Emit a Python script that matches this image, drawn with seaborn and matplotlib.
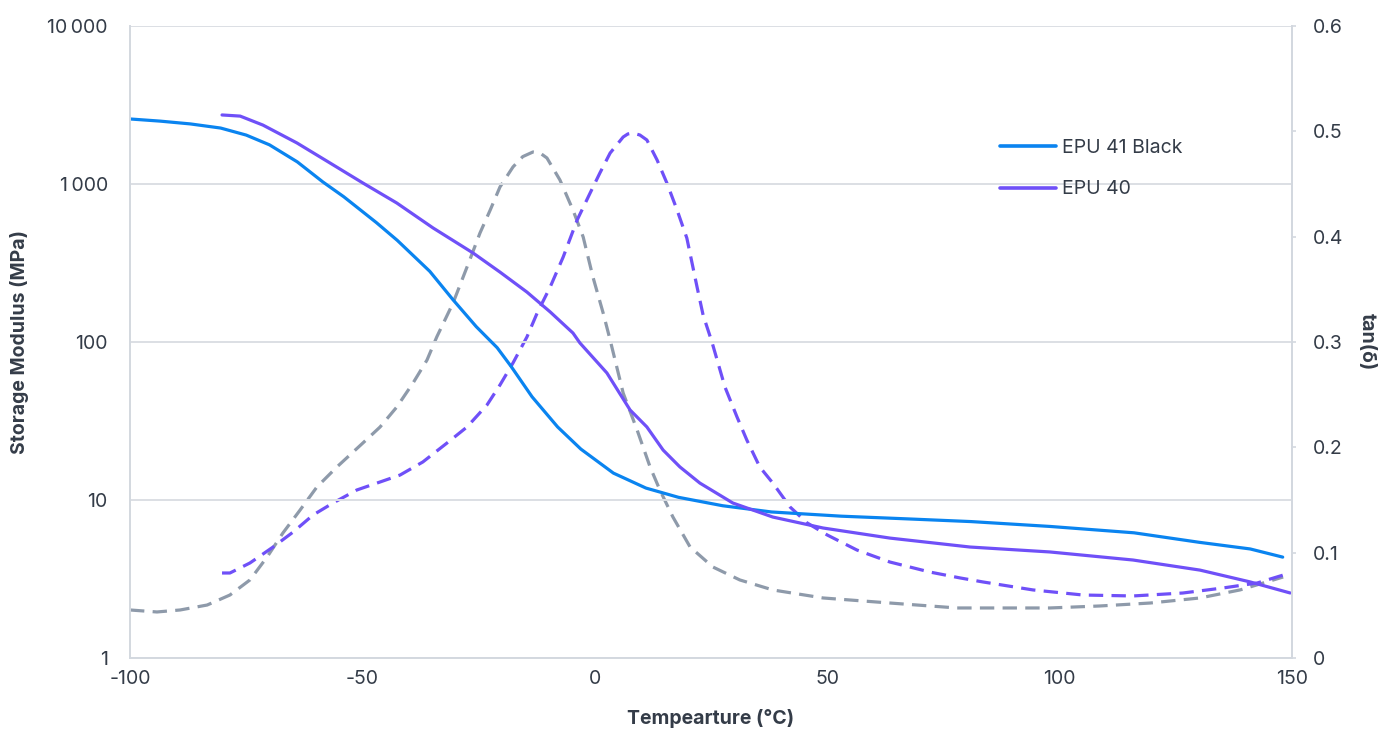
import numpy as np
import pandas as pd
import matplotlib
matplotlib.use("Agg")
import matplotlib.pyplot as plt
import seaborn as sns
from matplotlib.ticker import FixedLocator, FixedFormatter, NullLocator

# ---------------- data ----------------
series_names = ["EPU 41 Black", "EPU 40"]

temp_epu41_mod = [-100, -93.5, -87, -80.5, -75, -70, -64, -58.5, -54, -47, -42.5, -35.5,
                  -30.5, -25.5, -21, -18, -13.5, -8, -3, 4, 11, 18, 27.5, 38, 53, 67,
                  81, 98, 116, 130, 141, 148]
mod_epu41 = [2580, 2500, 2400, 2260, 2040, 1770, 1380, 1030, 830, 570, 440, 280,
             185, 125, 92, 70, 45, 29, 21, 14.8, 11.9, 10.4, 9.2, 8.4, 7.9, 7.6,
             7.3, 6.8, 6.2, 5.4, 4.9, 4.35]

temp_epu40_mod = [-80.2, -76.3, -71.4, -64.1, -57, -49.9, -42.6, -34.8, -26.2, -20.4,
                  -14.6, -9.6, -4.7, -3.2, 2.6, 7.6, 11.2, 14.7, 18.3, 22.6, 29.7,
                  38.3, 49.1, 63.5, 80.7, 97.9, 115.8, 130.2, 141, 149.6]
mod_epu40 = [2735, 2690, 2360, 1820, 1360, 1015, 758, 527, 366, 277,
             207, 155, 114, 98.6, 63.7, 37.1, 29.0, 20.7, 16.2, 12.8, 9.57,
             7.8, 6.65, 5.74, 5.04, 4.69, 4.17, 3.6, 3.03, 2.58]

temp_epu41_tan = [-100, -94.2, -89.2, -83.4, -78.5, -74.2, -70.5, -67.1, -63.4, -59.8,
                  -55.5, -49.9, -46.2, -42.6, -39.1, -36.1, -34, -30.5, -26.9, -24.7,
                  -22.5, -20.4, -17.6, -15.5, -13.3, -11.8, -10.3, -7.5, -4.7, -2.5, -0.4, 1.8, 3.3,
                  6.1, 9.1, 11.9, 14, 16.8, 20.5, 25.4, 31.2, 38.3, 49.1, 63.5, 77.9,
                  87.2, 97.9, 108.7, 119.5, 130.2, 138.8, 148.1]
tan_epu41 = [0.0456, 0.0437, 0.0456, 0.0503, 0.0598, 0.0741, 0.0959, 0.1187, 0.1405, 0.1623,
             0.1813, 0.2041, 0.2193, 0.2383, 0.2611, 0.2829, 0.3048, 0.337, 0.3779, 0.4035,
             0.4253, 0.4472, 0.4662, 0.4760, 0.4804, 0.4795, 0.4747, 0.4538, 0.4253, 0.3997, 0.3617, 0.3275, 0.3019,
             0.2516, 0.2165, 0.1813, 0.1595, 0.1339, 0.1054, 0.0864, 0.0741, 0.0646, 0.057, 0.0522, 0.0475,
             0.0475, 0.0475, 0.0494, 0.0522, 0.057, 0.0646, 0.0769]

temp_epu40_tan = [-80.2, -78.5, -74.2, -69.2, -64.9, -60.6, -56.3, -51.2, -46.2, -41.9,
                  -37, -31.8, -27.5, -23.2, -20.4, -17.6, -14.6, -12.4, -9.6, -6.8,
                  -3.8, -1, 1.1, 3.3, 6.1, 7.1, 8.2, 9.7, 11.2, 13.4, 15.5, 17.7, 19.8, 22,
                  23.3, 25.2, 28, 30.6, 32.7, 35.5, 38.3, 42, 45.7, 50, 56.4, 63.5,
                  72.1, 78.6, 83.5, 94.3, 105, 115.8, 126.5, 135.2, 142.5, 148.9]
tan_epu40 = [0.0807, 0.0807, 0.0902, 0.1054, 0.1196, 0.1358, 0.1472, 0.1595, 0.1671, 0.1737,
             0.1861, 0.2041, 0.2193, 0.2402, 0.2592, 0.2801, 0.3048, 0.3275, 0.3522, 0.3807,
             0.4158, 0.4415, 0.4605, 0.4794, 0.4946, 0.4975, 0.4984, 0.4965, 0.4918, 0.4728, 0.451, 0.4253, 0.3987, 0.3522,
             0.3256, 0.3, 0.2573, 0.2288, 0.207, 0.1813, 0.1661, 0.1434, 0.1282, 0.1168, 0.1025, 0.0911,
             0.0816, 0.076, 0.0722, 0.0646, 0.0598, 0.0589, 0.0617, 0.0665, 0.0712, 0.0798]

x_ticks = [-100, -50, 0, 50, 100, 150]
x_tick_labels = ["-100", "-50", "0", "50", "100", "150"]
left_ticks = [1, 10, 100, 1000, 10000]
left_tick_labels = ["1", "10", "100", "1\u2009000", "10\u2009000"]
right_ticks = [0, 0.1, 0.2, 0.3, 0.4, 0.5, 0.6]
right_tick_labels = ["0", "0.1", "0.2", "0.3", "0.4", "0.5", "0.6"]

# ---------------- style ----------------
BLUE = "#0A84F0"
PURPLE = "#6F50F8"
GRAY = "#8E9AAA"
GRID = "#DCDFE4"
SPINE = "#D3D8DF"
TEXT = "#343C48"

sns.set_theme(style="white")
plt.rcParams["font.family"] = ["Inter", "DejaVu Sans"]

df_mod = pd.concat([
    pd.DataFrame({"Temperature": temp_epu41_mod, "Modulus": mod_epu41, "Series": series_names[0]}),
    pd.DataFrame({"Temperature": temp_epu40_mod, "Modulus": mod_epu40, "Series": series_names[1]}),
], ignore_index=True)
df_tan = pd.concat([
    pd.DataFrame({"Temperature": temp_epu41_tan, "tan": tan_epu41, "Series": series_names[0]}),
    pd.DataFrame({"Temperature": temp_epu40_tan, "tan": tan_epu40, "Series": series_names[1]}),
], ignore_index=True)

W, H = 1392, 734
fig = plt.figure(figsize=(W / 100, H / 100), dpi=100)
ax = fig.add_axes([130 / W, (H - 658) / H, 1162 / W, 632 / H])
ax2 = ax.twinx()

palette = {series_names[0]: BLUE, series_names[1]: PURPLE}
sns.lineplot(data=df_mod, x="Temperature", y="Modulus", hue="Series", palette=palette,
             ax=ax, linewidth=2.3, sort=False, estimator=None)

tan_palette = {series_names[0]: GRAY, series_names[1]: PURPLE}
sns.lineplot(data=df_tan, x="Temperature", y="tan", hue="Series", palette=tan_palette,
             ax=ax2, linewidth=2.3, sort=False, estimator=None, legend=False)
for ln in ax2.get_lines():
    ln.set_dashes((4.5, 2.6))

ax.set_yscale("log")
ax.set_ylim(1, 10000)
ax.set_xlim(-100, 150)
ax2.set_ylim(0, 0.6)

ax.xaxis.set_major_locator(FixedLocator(x_ticks))
ax.xaxis.set_major_formatter(FixedFormatter(x_tick_labels))
ax.yaxis.set_major_locator(FixedLocator(left_ticks))
ax.yaxis.set_major_formatter(FixedFormatter(left_tick_labels))
ax.yaxis.set_minor_locator(NullLocator())
ax2.yaxis.set_major_locator(FixedLocator(right_ticks))
ax2.yaxis.set_major_formatter(FixedFormatter(right_tick_labels))

ax.grid(True, axis="y", color=GRID, linewidth=1.4)
ax.grid(False, axis="x")
ax2.grid(False)

for s in ["top"]:
    ax.spines[s].set_visible(False)
    ax2.spines[s].set_visible(False)
for s in ["left", "bottom", "right"]:
    ax.spines[s].set_color(SPINE)
    ax.spines[s].set_linewidth(1.4)
for s in ["left", "bottom"]:
    ax2.spines[s].set_visible(False)
ax2.spines["right"].set_color(SPINE)
ax2.spines["right"].set_linewidth(1.4)

ax.tick_params(axis="y", which="both", length=0, labelsize=14, labelcolor=TEXT, pad=16)
ax.tick_params(axis="x", which="both", length=0, labelsize=14, labelcolor=TEXT, pad=9)
ax2.tick_params(axis="y", length=3, width=1.2, color=SPINE, labelsize=14, labelcolor=TEXT, pad=12)

ax.set_xlabel("Tempearture (°C)", fontsize=14, fontweight="bold", color=TEXT)
ax.set_ylabel("Storage Modulus (MPa)", fontsize=14, fontweight="bold", color=TEXT)
ax2.set_ylabel("tan(δ)", fontsize=14, fontweight="bold", color=TEXT, rotation=270, va="bottom")
ax.xaxis.set_label_coords(0.5, -(709 - 658) / 632)
ax.yaxis.set_label_coords((29 - 130) / 1162, 0.5)
ax2.yaxis.set_label_coords((1358 - 130) / 1162, 0.5)

leg = ax.legend(loc="upper left", bbox_to_anchor=((1000 - 130) / 1162, (658 - 139) / 632),
                frameon=False, fontsize=14, handlelength=2.9, handletextpad=0.3,
                labelspacing=1.2, borderpad=0, borderaxespad=0)
for t in leg.get_texts():
    t.set_color(TEXT)
for h in leg.get_lines():
    h.set_linewidth(2.6)

ax.set_zorder(1)
ax.patch.set_visible(False)
ax2.set_zorder(0)

fig.savefig("out.png", dpi=100, facecolor="white")
